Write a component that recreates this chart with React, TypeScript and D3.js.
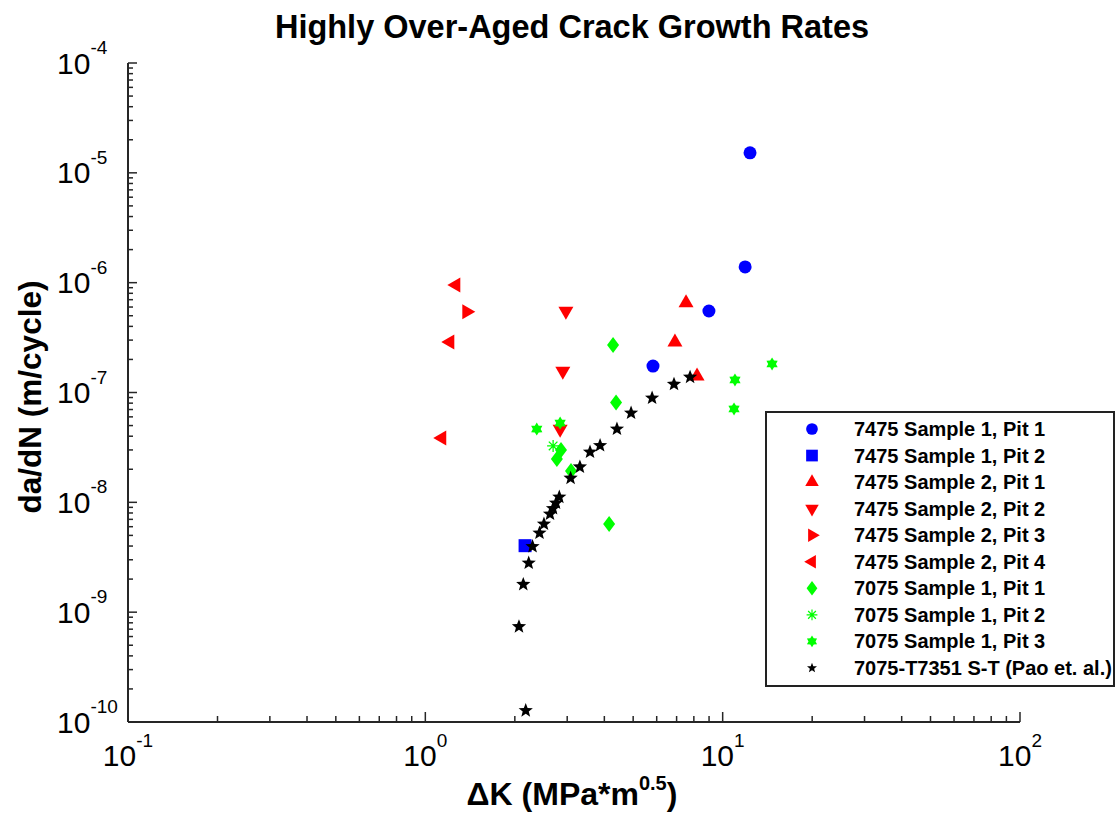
import React from "react";
import * as d3 from "d3";

const FONT = "'Liberation Sans', Arial, Helvetica, sans-serif";

const s1p1X = [12.36, 11.9, 8.99, 5.83];
const s1p1Y = [1.52e-5, 1.39e-6, 5.52e-7, 1.74e-7];
const s1p2X = [2.165];
const s1p2Y = [4.03e-9];
const s2p1X = [7.53, 6.91, 8.2];
const s2p1Y = [6.53e-7, 2.88e-7, 1.41e-7];
const s2p2X = [2.97, 2.9, 2.84];
const s2p2Y = [5.52e-7, 1.57e-7, 4.65e-8];
const s2p3X = [1.377];
const s2p3Y = [5.44e-7];
const s2p4X = [1.268, 1.21, 1.137];
const s2p4Y = [9.52e-7, 2.88e-7, 3.85e-8];
const a1p1X = [4.28, 4.38, 4.15, 2.86, 2.77, 3.09];
const a1p1Y = [2.71e-7, 8.11e-8, 6.35e-9, 3.0e-8, 2.48e-8, 1.93e-8];
const a1p2X = [2.69];
const a1p2Y = [3.26e-8];
const a1p3X = [2.37, 2.84, 14.66, 11.0, 10.92];
const a1p3Y = [4.65e-8, 5.27e-8, 1.82e-7, 1.3e-7, 7.08e-8];
const paoX = [7.77, 6.86, 5.79, 4.92, 4.41, 3.87, 3.58, 3.31, 3.08, 2.822, 2.751, 2.688, 2.626, 2.506, 2.421, 2.294, 2.227, 2.135, 2.065, 2.176];
const paoY = [1.38e-7, 1.19e-7, 8.91e-8, 6.51e-8, 4.65e-8, 3.29e-8, 2.87e-8, 2.1e-8, 1.66e-8, 1.117e-8, 9.86e-9, 8.79e-9, 7.83e-9, 6.35e-9, 5.26e-9, 3.96e-9, 2.8e-9, 1.79e-9, 7.38e-10, 1.27e-10];

const seriesNames = [
  "7475 Sample 1, Pit 1",
  "7475 Sample 1, Pit 2",
  "7475 Sample 2, Pit 1",
  "7475 Sample 2, Pit 2",
  "7475 Sample 2, Pit 3",
  "7475 Sample 2, Pit 4",
  "7075 Sample 1, Pit 1",
  "7075 Sample 1, Pit 2",
  "7075 Sample 1, Pit 3",
  "7075-T7351 S-T (Pao et. al.)",
];
const xTickExps = [-1, 0, 1, 2];
const yTickExps = [-4, -5, -6, -7, -8, -9, -10];

type Shape = "circle" | "square" | "triUp" | "triDown" | "triRight" | "triLeft" | "diamond" | "asterisk" | "hexstar" | "star";

const series: { name: string; xs: number[]; ys: number[]; color: string; shape: Shape }[] = [
  { name: seriesNames[0], xs: s1p1X, ys: s1p1Y, color: "#0000ff", shape: "circle" },
  { name: seriesNames[1], xs: s1p2X, ys: s1p2Y, color: "#0000ff", shape: "square" },
  { name: seriesNames[2], xs: s2p1X, ys: s2p1Y, color: "#ff0000", shape: "triUp" },
  { name: seriesNames[3], xs: s2p2X, ys: s2p2Y, color: "#ff0000", shape: "triDown" },
  { name: seriesNames[4], xs: s2p3X, ys: s2p3Y, color: "#ff0000", shape: "triRight" },
  { name: seriesNames[5], xs: s2p4X, ys: s2p4Y, color: "#ff0000", shape: "triLeft" },
  { name: seriesNames[6], xs: a1p1X, ys: a1p1Y, color: "#00ff00", shape: "diamond" },
  { name: seriesNames[7], xs: a1p2X, ys: a1p2Y, color: "#00ff00", shape: "asterisk" },
  { name: seriesNames[8], xs: a1p3X, ys: a1p3Y, color: "#00ff00", shape: "hexstar" },
  { name: seriesNames[9], xs: paoX, ys: paoY, color: "#000000", shape: "star" },
];

function starPath(n: number, R: number, r: number, rot = -Math.PI / 2) {
  const pts: string[] = [];
  for (let i = 0; i < n * 2; i++) {
    const a = rot + (i * Math.PI) / n;
    const rad = i % 2 === 0 ? R : r;
    pts.push(`${(Math.cos(a) * rad).toFixed(2)},${(Math.sin(a) * rad).toFixed(2)}`);
  }
  return "M" + pts.join("L") + "Z";
}

function triPath(dir: "up" | "down" | "left" | "right", w: number, h: number) {
  if (dir === "up") return `M0,${(-2 * h) / 3}L${w / 2},${h / 3}L${-w / 2},${h / 3}Z`;
  if (dir === "down") return `M0,${(2 * h) / 3}L${w / 2},${-h / 3}L${-w / 2},${-h / 3}Z`;
  if (dir === "right") return `M${(2 * h) / 3},0L${-h / 3},${w / 2}L${-h / 3},${-w / 2}Z`;
  return `M${(-2 * h) / 3},0L${h / 3},${w / 2}L${h / 3},${-w / 2}Z`;
}

function Marker({ shape, color, x, y, scale = 1 }: { shape: Shape; color: string; x: number; y: number; scale?: number }) {
  const t = `translate(${x},${y}) scale(${scale})`;
  switch (shape) {
    case "circle":
      return <circle cx={0} cy={0} r={6.5} fill={color} transform={t} />;
    case "square":
      return <rect x={-6.5} y={-6.5} width={13} height={13} fill={color} transform={t} />;
    case "triUp":
      return <path d={triPath("up", 15, 13)} fill={color} transform={t} />;
    case "triDown":
      return <path d={triPath("down", 15, 13)} fill={color} transform={t} />;
    case "triRight":
      return <path d={triPath("right", 15, 13)} fill={color} transform={t} />;
    case "triLeft":
      return <path d={triPath("left", 15, 13)} fill={color} transform={t} />;
    case "diamond":
      return <path d="M0,-8L6,0L0,8L-6,0Z" fill={color} transform={t} />;
    case "asterisk":
      return (
        <path
          d="M-6,0L6,0M0,-6L0,6M-4.3,-4.3L4.3,4.3M-4.3,4.3L4.3,-4.3"
          stroke={color}
          strokeWidth={1.3}
          fill="none"
          transform={t}
        />
      );
    case "hexstar":
      return <path d={starPath(6, 6.5, 3.9)} fill={color} transform={t} />;
    case "star":
      return <path d={starPath(5, 7.5, 3.2)} fill={color} transform={t} />;
  }
}

export default function App() {
  const W = 1117;
  const H = 820;
  const x0 = 128, x1 = 1020, yTop = 63, yBot = 722;
  const x = d3.scaleLog().domain([0.1, 100]).range([x0, x1]);
  const y = d3.scaleLog().domain([1e-10, 1e-4]).range([yBot, yTop]);

  const minorX: number[] = [];
  for (let e = -1; e < 2; e++) for (let m = 2; m <= 9; m++) minorX.push(m * Math.pow(10, e));
  const minorY: number[] = [];
  for (let e = -10; e < -4; e++) for (let m = 2; m <= 9; m++) minorY.push(m * Math.pow(10, e));

  const axisColor = "#262626";
  const legX = 766, legY = 412, legW = 348, legH = 274;
  const rowY0 = 429, rowStep = 26.55;

  return (
    <svg width={W} height={H} style={{ position: "absolute", left: 0, top: 0, background: "#fff" }} fontFamily={FONT}>
      <rect x={0} y={0} width={W} height={H} fill="#fff" />
      <text x={572} y={38} textAnchor="middle" fontWeight="bold" fontSize={32.5} fill="#000">
        Highly Over-Aged Crack Growth Rates
      </text>

      <line x1={x0} x2={x0} y1={yTop} y2={yBot} stroke={axisColor} strokeWidth={2} />
      <line x1={x0} x2={x1} y1={yBot} y2={yBot} stroke={axisColor} strokeWidth={2} />
      {minorX.map((v, i) => (
        <line key={"mx" + i} x1={x(v)} x2={x(v)} y1={yBot} y2={yBot - 6} stroke={axisColor} strokeWidth={1.5} />
      ))}
      {xTickExps.map((e) => (
        <line key={"Mx" + e} x1={x(Math.pow(10, e))} x2={x(Math.pow(10, e))} y1={yBot} y2={yBot - 10} stroke={axisColor} strokeWidth={1.5} />
      ))}
      {minorY.map((v, i) => (
        <line key={"my" + i} x1={x0} x2={x0 + 5} y1={y(v)} y2={y(v)} stroke={axisColor} strokeWidth={1.5} />
      ))}
      {yTickExps.map((e) => (
        <line key={"My" + e} x1={x0} x2={x0 + 9} y1={y(Math.pow(10, e))} y2={y(Math.pow(10, e))} stroke={axisColor} strokeWidth={1.5} />
      ))}

      {xTickExps.map((e) => (
        <text key={"xl" + e} x={x(Math.pow(10, e))} y={766} textAnchor="middle" fill="#000">
          <tspan fontSize={30}>10</tspan>
          <tspan fontSize={19} dy={-19}>{String(e)}</tspan>
        </text>
      ))}
      {yTickExps.map((e) => (
        <text key={"yl" + e} x={57} y={y(Math.pow(10, e)) + 10.5} fill="#000">
          <tspan fontSize={30}>10</tspan>
          <tspan fontSize={19} dy={-19.5}>{String(e)}</tspan>
        </text>
      ))}

      <text transform={`translate(41,397) rotate(-90)`} textAnchor="middle" fontWeight="bold" fontSize={31.5} fill="#000">
        da/dN (m/cycle)
      </text>
      <text x={572} y={805} textAnchor="middle" fontWeight="bold" fontSize={32} fill="#000">
        <tspan>ΔK (MPa*m</tspan>
        <tspan fontSize={20} dy={-15}>0.5</tspan>
        <tspan dy={15}>)</tspan>
      </text>

      {series.map((s, si) => (
        <g key={"s" + si}>
          {s.xs.map((xv, i) => (
            <Marker key={i} shape={s.shape} color={s.color} x={x(xv)} y={y(s.ys[i])} />
          ))}
        </g>
      ))}

      <rect x={legX} y={legY} width={legW} height={legH} fill="#fff" stroke="#222" strokeWidth={2} />
      {series.map((s, i) => (
        <g key={"lg" + i}>
          <Marker shape={s.shape} color={s.color} x={812} y={rowY0 + i * rowStep} scale={s.shape === "star" ? 0.7 : 0.9} />
          <text x={854} y={rowY0 + i * rowStep + 7} fontSize={20} fontWeight="bold" fill="#000">
            {s.name}
          </text>
        </g>
      ))}
    </svg>
  );
}
